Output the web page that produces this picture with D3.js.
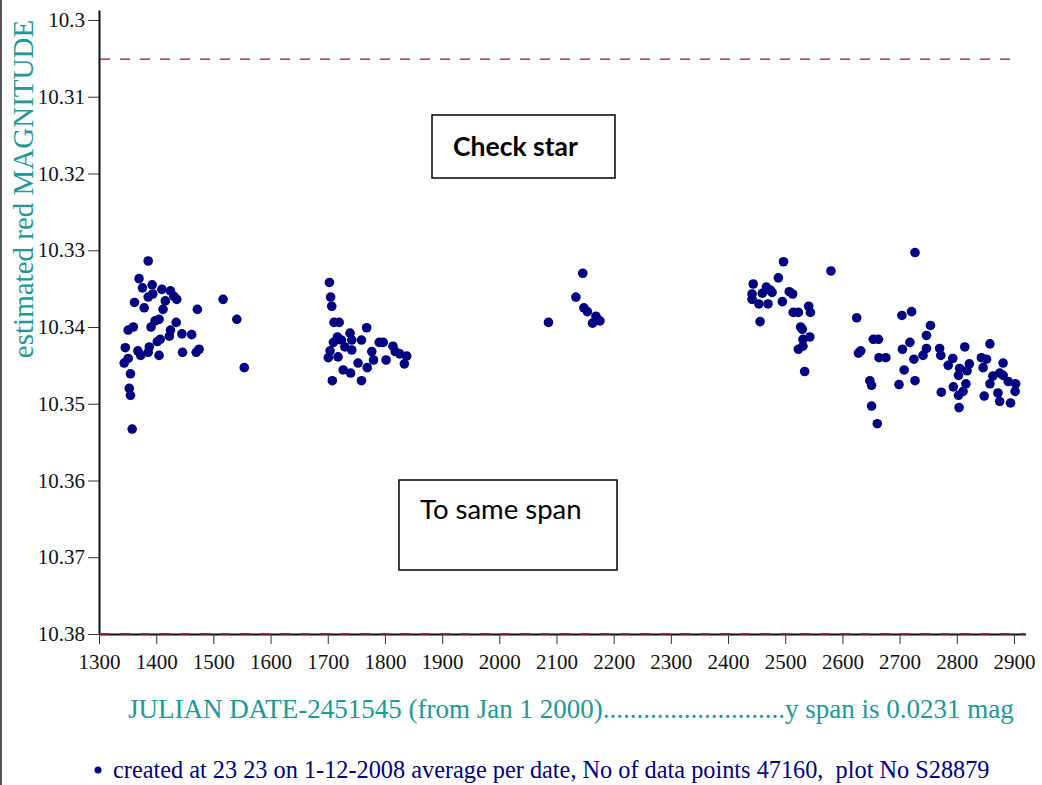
<!DOCTYPE html>
<html>
<head>
<meta charset="utf-8">
<script src="https://cdn.jsdelivr.net/npm/d3@7"></script>
<style>
  body { margin: 0; background: #fff; }
  svg { display: block; }
</style>
</head>
<body>
<script>
// Check star magnitudes, [JD-2451545, estimated red magnitude], one list per observing season
const season2003 = [
  [1386, 10.3314], [1370, 10.3337], [1376, 10.3349], [1393, 10.3345], [1410, 10.3351],
  [1425, 10.3353], [1431, 10.3360], [1436, 10.3364], [1386, 10.3361], [1394, 10.3357],
  [1416, 10.3366], [1362, 10.3368], [1379, 10.3375], [1412, 10.3377], [1472, 10.3377],
  [1517, 10.3364], [1541, 10.3390], [1351, 10.3404], [1360, 10.3400], [1391, 10.3400],
  [1398, 10.3392], [1405, 10.3390], [1435, 10.3394], [1425, 10.3404], [1423, 10.3412],
  [1445, 10.3409], [1462, 10.3410], [1407, 10.3416], [1402, 10.3419], [1388, 10.3426],
  [1346, 10.3427], [1368, 10.3431], [1373, 10.3437], [1386, 10.3433], [1405, 10.3437],
  [1446, 10.3433], [1470, 10.3433], [1475, 10.3429], [1351, 10.3441], [1344, 10.3447],
  [1355, 10.3461], [1353, 10.3480], [1355, 10.3489], [1554, 10.3453], [1358, 10.3533]
];
const season2004 = [
  [1703, 10.3342], [1705, 10.3361], [1707, 10.3373], [1711, 10.3394], [1720, 10.3394],
  [1768, 10.3401], [1717, 10.3413], [1710, 10.3420], [1724, 10.3417], [1739, 10.3408],
  [1742, 10.3417], [1759, 10.3417], [1790, 10.3420], [1797, 10.3420], [1814, 10.3425],
  [1704, 10.3431], [1730, 10.3426], [1742, 10.3430], [1777, 10.3432], [1818, 10.3432],
  [1826, 10.3435], [1838, 10.3438], [1701, 10.3440], [1718, 10.3439], [1780, 10.3443],
  [1802, 10.3443], [1753, 10.3447], [1769, 10.3453], [1834, 10.3448], [1727, 10.3456],
  [1740, 10.3460], [1708, 10.3470], [1759, 10.3470]
];
const season2005 = [
  [2146, 10.3330], [2134, 10.3361], [2148, 10.3375], [2154, 10.3380], [2169, 10.3386],
  [2176, 10.3392], [2163, 10.3395], [2086, 10.3394]
];
const season2006 = [
  [2497, 10.3315], [2488, 10.3336], [2580, 10.3327], [2444, 10.3344], [2467, 10.3348],
  [2474, 10.3352], [2442, 10.3357], [2460, 10.3356], [2477, 10.3355], [2507, 10.3354],
  [2513, 10.3357], [2442, 10.3364], [2454, 10.3370], [2470, 10.3370], [2495, 10.3367],
  [2541, 10.3373], [2544, 10.3381], [2514, 10.3381], [2523, 10.3381], [2456, 10.3393],
  [2527, 10.3400], [2530, 10.3403], [2531, 10.3416], [2543, 10.3413], [2531, 10.3425],
  [2523, 10.3429], [2534, 10.3458]
];
const season2007 = [
  [2727, 10.3303], [2625, 10.3388], [2704, 10.3385], [2721, 10.3380], [2754, 10.3398],
  [2747, 10.3411], [2654, 10.3416], [2663, 10.3416], [2718, 10.3420], [2705, 10.3429],
  [2632, 10.3431], [2628, 10.3434], [2747, 10.3428], [2741, 10.3437], [2770, 10.3428],
  [2772, 10.3437], [2664, 10.3440], [2676, 10.3440], [2725, 10.3442], [2793, 10.3441],
  [2814, 10.3426], [2785, 10.3450], [2805, 10.3454], [2822, 10.3448], [2818, 10.3457],
  [2803, 10.3463], [2708, 10.3456], [2648, 10.3470], [2651, 10.3476], [2699, 10.3475],
  [2727, 10.3470], [2843, 10.3440], [2852, 10.3442], [2858, 10.3422], [2846, 10.3453],
  [2881, 10.3447], [2863, 10.3464], [2875, 10.3460], [2858, 10.3474], [2881, 10.3463],
  [2890, 10.3471], [2903, 10.3474], [2902, 10.3484], [2794, 10.3478], [2816, 10.3474],
  [2803, 10.3489], [2811, 10.3484], [2773, 10.3485], [2848, 10.3490], [2872, 10.3486],
  [2875, 10.3497], [2894, 10.3499], [2804, 10.3505], [2651, 10.3503], [2661, 10.3526]
];

const xTicks = [1300, 1400, 1500, 1600, 1700, 1800, 1900, 2000, 2100, 2200, 2300, 2400, 2500, 2600, 2700, 2800, 2900];
const yTicks = [10.3, 10.31, 10.32, 10.33, 10.34, 10.35, 10.36, 10.37, 10.38];
const refLines = [10.3051, 10.38];

const yTitle = "estimated red MAGNITUDE";
const xTitle = "JULIAN DATE-2451545 (from Jan 1 2000)...........................y span is 0.0231 mag";
const footNote = "created at 23 23 on 1-12-2008 average per date, No of data points 47160,  plot No S28879";

const teal = "#229797", navy = "#000080";
const serif = "'Liberation Serif', 'Times New Roman', serif";

const svg = d3.select("body").append("svg")
  .attr("width", 1042)
  .attr("height", 785);

// scales (pixel ranges measured off the plot frame)
const x = d3.scaleLinear().domain([1300, 2920]).range([99, 1025.4]);
const y = d3.scaleLinear().domain([10.2987, 10.38]).range([10, 634]);

// left page edge
svg.append("line")
  .attr("x1", 1).attr("x2", 1).attr("y1", 0).attr("y2", 785)
  .attr("stroke", "#555").attr("stroke-width", 2);

// axes
const xAxis = svg.append("g")
  .attr("transform", `translate(0,${y(10.38)})`)
  .call(d3.axisBottom(x).tickValues(xTicks).tickFormat(d3.format("d"))
    .tickSize(10).tickSizeOuter(0).tickPadding(10));

const yAxis = svg.append("g")
  .attr("transform", `translate(${x(1300)},0)`)
  .call(d3.axisLeft(y).tickValues(yTicks).tickFormat(d => String(d))
    .tickSize(11).tickSizeOuter(0).tickPadding(3));

[xAxis, yAxis].forEach(g => {
  g.attr("font-family", serif);
  g.select(".domain").attr("stroke", "#111").attr("stroke-width", 2);
  g.selectAll(".tick line").attr("stroke", "#333");
  g.selectAll(".tick text")
    .attr("fill", "#111")
    .style("font-family", serif)
    .style("font-size", "21px");
});

// dashed reference lines
svg.selectAll(".ref")
  .data(refLines)
  .enter()
  .append("line")
    .attr("class", "ref")
    .attr("x1", x(1300) + 1)
    .attr("x2", d => d === 10.38 ? x(2920) : x(2903))
    .attr("y1", d => y(d))
    .attr("y2", d => y(d))
    .attr("stroke", "#8b1f1f")
    .attr("stroke-width", 1.3)
    .attr("stroke-dasharray", "10,10");

// points
const allPoints = [].concat(season2003, season2004, season2005, season2006, season2007);
svg.selectAll(".pt")
  .data(allPoints)
  .enter()
  .append("circle")
    .attr("class", "pt")
    .attr("cx", d => x(d[0]))
    .attr("cy", d => y(d[1]))
    .attr("r", 4.8)
    .attr("fill", navy);

// axis titles
svg.append("text")
  .attr("transform", "translate(33,189) rotate(-90)")
  .attr("text-anchor", "middle")
  .attr("fill", teal)
  .style("font-family", serif)
  .style("font-size", "29px")
  .text(yTitle);

svg.append("text")
  .attr("x", 128)
  .attr("y", 718)
  .attr("fill", teal)
  .style("font-family", serif)
  .style("font-size", "27px")
  .text(xTitle);

// legend / footnote
svg.append("circle")
  .attr("cx", 98).attr("cy", 770).attr("r", 3.5)
  .attr("fill", navy);
svg.append("text")
  .attr("x", 113)
  .attr("y", 778)
  .attr("fill", navy)
  .style("font-family", serif)
  .style("font-size", "24.3px")
  .style("white-space", "pre")
  .text(footNote);

// text boxes
const boxes = [
  {label: "Check star", x: 432, y: 115, w: 183, h: 63, tx: 453, ty: 156, bold: true, size: 26.5},
  {label: "To same span", x: 399, y: 480, w: 218, h: 90, tx: 420, ty: 519, bold: false, size: 27.5}
];
const box = svg.selectAll(".box")
  .data(boxes)
  .enter()
  .append("g")
    .attr("class", "box");
box.append("rect")
  .attr("x", d => d.x).attr("y", d => d.y)
  .attr("width", d => d.w).attr("height", d => d.h)
  .attr("fill", "#fff")
  .attr("stroke", "#000")
  .attr("stroke-width", 1.5);
box.append("text")
  .attr("x", d => d.tx).attr("y", d => d.ty)
  .attr("fill", "#000")
  .style("font-family", "Lato, 'Open Sans', sans-serif")
  .style("font-size", d => d.size + "px")
  .style("font-weight", d => d.bold ? "bold" : "normal")
  .text(d => d.label);
</script>
</body>
</html>
